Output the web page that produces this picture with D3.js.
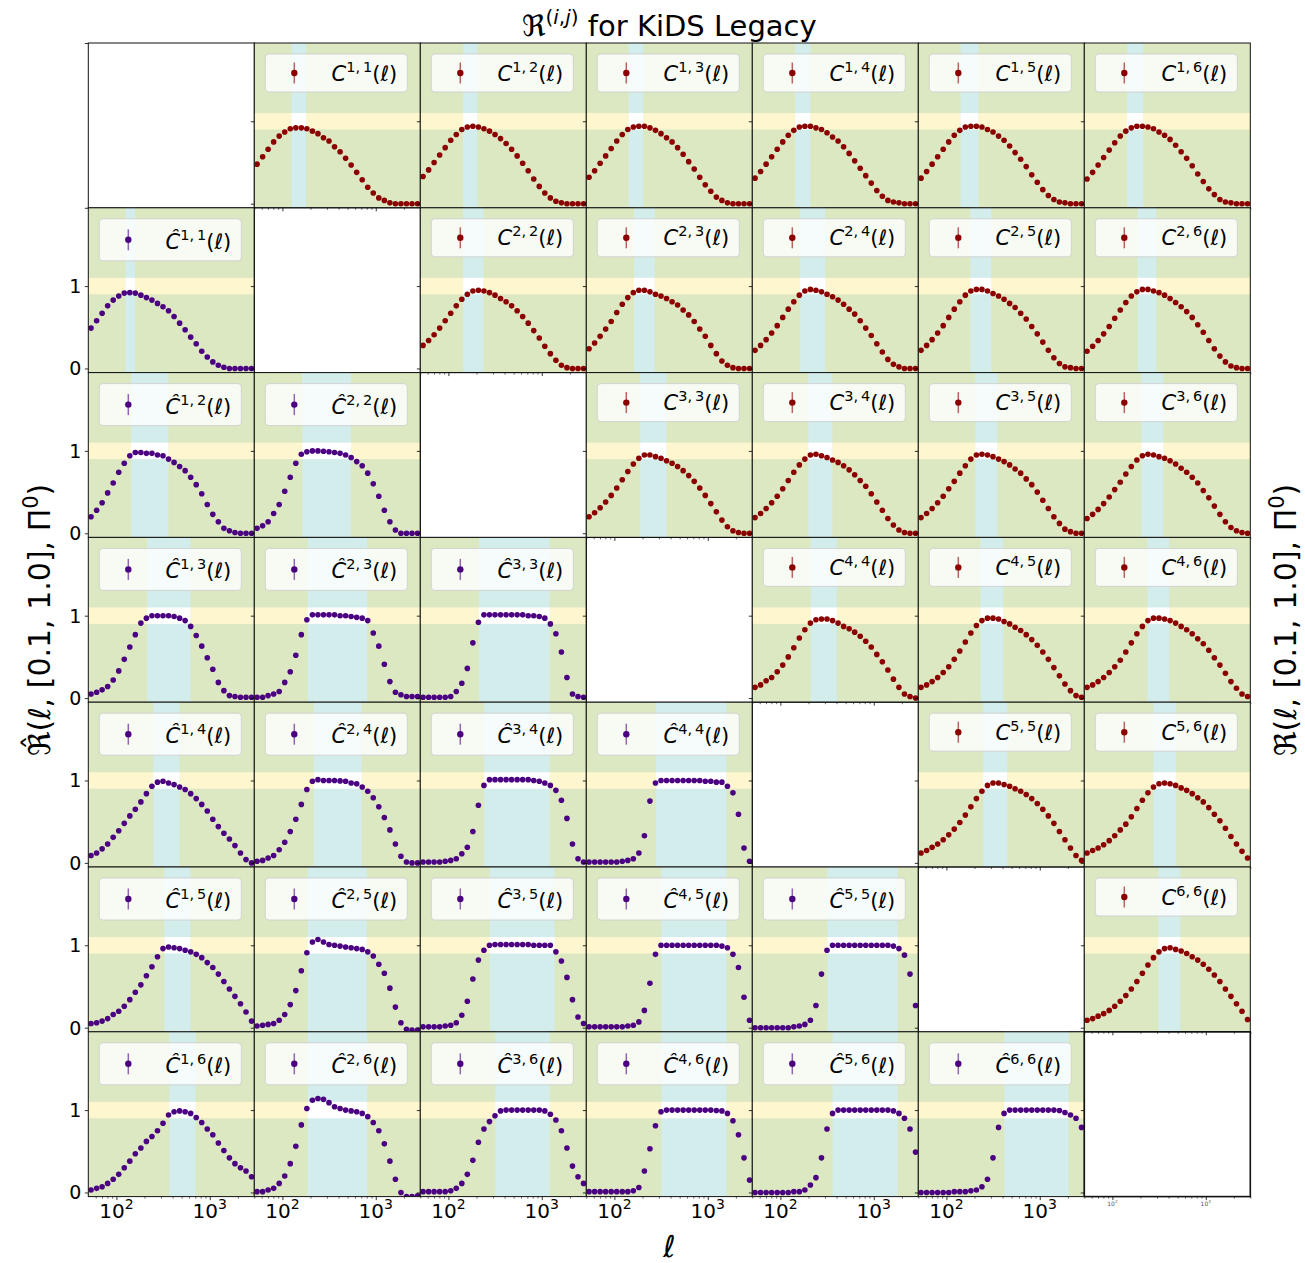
<!DOCTYPE html>
<html>
<head>
<meta charset="utf-8">
<script src="https://cdn.jsdelivr.net/npm/d3@7"></script>
<style>
body { margin: 0; background: #fff; }
text { font-family: "DejaVu Sans", sans-serif; }
</style>
</head>
<body>
<script>
// multipole bin centres
const ell = [53.5, 61.4, 70.3, 80.6, 92.4, 105.9, 121.4, 139.2, 159.5, 182.8, 209.6, 240.2, 275.4, 315.6, 361.8,
             414.7, 475.4, 544.9, 624.6, 715.9, 820.6, 940.6, 1078, 1236, 1417, 1624, 1861, 2133, 2445, 2803];

const xMajor = [100, 1000];
const xMajorLabels = ["2", "3"];
const xMinor = [60, 70, 80, 90, 200, 300, 400, 500, 600, 700, 800, 900, 2000, 3000];
const yTicks = [0, 1];
const yBand = [0.9, 1.1];

// pair order used for both triangles
const pairs = [[1,1],[1,2],[1,3],[1,4],[1,5],[1,6],[2,2],[2,3],[2,4],[2,5],[2,6],
               [3,3],[3,4],[3,5],[3,6],[4,4],[4,5],[4,6],[5,5],[5,6],[6,6]];

// upper triangle: C^{i,j}(l)
const C11 = [0.48,0.57,0.66,0.75,0.82,0.87,0.91,0.92,0.92,0.91,0.88,0.85,0.80,0.76,0.69,0.63,0.55,0.47,0.38,0.29,0.20,0.13,0.07,0.04,0.01,0,0,0,0,0];
const C12 = [0.33,0.41,0.50,0.59,0.68,0.77,0.84,0.90,0.93,0.94,0.93,0.91,0.88,0.84,0.79,0.73,0.66,0.58,0.49,0.40,0.30,0.21,0.13,0.07,0.03,0.01,0,0,0,0];
const C13 = [0.32,0.40,0.49,0.58,0.67,0.76,0.84,0.90,0.93,0.94,0.94,0.92,0.89,0.85,0.80,0.75,0.68,0.60,0.51,0.42,0.32,0.23,0.15,0.08,0.04,0.01,0,0,0,0];
const C14 = [0.31,0.39,0.48,0.57,0.66,0.75,0.83,0.89,0.93,0.94,0.94,0.92,0.90,0.86,0.81,0.76,0.69,0.61,0.52,0.43,0.34,0.25,0.16,0.09,0.04,0.02,0.01,0,0,0];
const C15 = [0.31,0.39,0.48,0.57,0.66,0.75,0.83,0.89,0.93,0.94,0.94,0.93,0.90,0.87,0.82,0.77,0.70,0.62,0.54,0.45,0.35,0.26,0.17,0.10,0.05,0.02,0.01,0,0,0];
const C16 = [0.30,0.38,0.47,0.56,0.65,0.74,0.82,0.88,0.92,0.94,0.94,0.93,0.91,0.87,0.83,0.78,0.71,0.63,0.55,0.46,0.36,0.27,0.18,0.11,0.05,0.02,0.01,0,0,0];
const C22 = [0.28,0.34,0.41,0.49,0.58,0.67,0.76,0.84,0.90,0.94,0.95,0.94,0.92,0.89,0.85,0.81,0.76,0.70,0.63,0.55,0.46,0.37,0.27,0.18,0.10,0.04,0.01,0,0,0];
const C23 = [0.24,0.31,0.39,0.48,0.57,0.68,0.78,0.86,0.92,0.95,0.95,0.93,0.90,0.88,0.85,0.81,0.77,0.71,0.65,0.57,0.48,0.39,0.28,0.18,0.09,0.04,0.01,0,0,0];
const C24 = [0.22,0.28,0.35,0.43,0.52,0.62,0.72,0.81,0.89,0.94,0.96,0.95,0.93,0.90,0.87,0.83,0.78,0.72,0.66,0.58,0.49,0.40,0.30,0.20,0.11,0.05,0.02,0,0,0];
const C25 = [0.22,0.28,0.35,0.43,0.52,0.62,0.72,0.81,0.89,0.94,0.96,0.96,0.94,0.91,0.88,0.84,0.79,0.74,0.67,0.60,0.51,0.42,0.32,0.22,0.13,0.06,0.02,0.01,0,0];
const C26 = [0.21,0.27,0.34,0.42,0.51,0.61,0.71,0.80,0.88,0.93,0.96,0.96,0.94,0.92,0.89,0.85,0.80,0.75,0.69,0.62,0.53,0.44,0.34,0.24,0.15,0.08,0.03,0.01,0,0];
const C33 = [0.20,0.25,0.31,0.38,0.46,0.55,0.65,0.75,0.84,0.91,0.95,0.95,0.93,0.91,0.88,0.85,0.81,0.76,0.70,0.63,0.55,0.46,0.36,0.26,0.16,0.08,0.03,0.01,0,0];
const C34 = [0.19,0.24,0.30,0.37,0.45,0.54,0.64,0.74,0.83,0.90,0.95,0.96,0.94,0.92,0.89,0.86,0.82,0.77,0.71,0.64,0.57,0.48,0.38,0.28,0.18,0.10,0.04,0.01,0,0];
const C35 = [0.19,0.24,0.30,0.37,0.45,0.54,0.63,0.73,0.82,0.90,0.95,0.96,0.95,0.93,0.90,0.87,0.83,0.78,0.73,0.66,0.59,0.50,0.40,0.30,0.20,0.12,0.05,0.02,0,0];
const C36 = [0.18,0.23,0.29,0.36,0.44,0.53,0.62,0.72,0.81,0.89,0.94,0.96,0.95,0.93,0.91,0.88,0.84,0.79,0.74,0.68,0.61,0.52,0.43,0.33,0.23,0.14,0.07,0.03,0.01,0];
const C44 = [0.13,0.16,0.21,0.25,0.32,0.40,0.50,0.61,0.73,0.83,0.91,0.95,0.96,0.96,0.94,0.91,0.87,0.84,0.80,0.75,0.69,0.62,0.53,0.44,0.34,0.23,0.13,0.05,0.02,0];
const C45 = [0.13,0.16,0.20,0.25,0.31,0.38,0.47,0.57,0.68,0.79,0.88,0.94,0.97,0.97,0.96,0.93,0.90,0.86,0.82,0.77,0.71,0.64,0.56,0.47,0.37,0.27,0.17,0.09,0.03,0.01];
const C46 = [0.13,0.16,0.20,0.25,0.31,0.38,0.46,0.56,0.67,0.78,0.87,0.94,0.97,0.97,0.96,0.94,0.91,0.87,0.83,0.78,0.72,0.66,0.58,0.49,0.40,0.30,0.20,0.12,0.05,0.02];
const C55 = [0.12,0.15,0.19,0.23,0.28,0.34,0.41,0.49,0.58,0.68,0.78,0.87,0.94,0.97,0.97,0.95,0.93,0.90,0.87,0.83,0.78,0.72,0.65,0.57,0.48,0.38,0.28,0.18,0.09,0.03];
const C56 = [0.12,0.15,0.18,0.22,0.27,0.33,0.40,0.47,0.56,0.66,0.76,0.85,0.92,0.96,0.97,0.96,0.94,0.91,0.88,0.84,0.79,0.74,0.67,0.59,0.51,0.42,0.32,0.23,0.14,0.06];
const C66 = [0.09,0.11,0.14,0.17,0.21,0.26,0.32,0.39,0.47,0.56,0.66,0.76,0.85,0.92,0.96,0.97,0.95,0.93,0.90,0.86,0.82,0.77,0.71,0.64,0.56,0.47,0.38,0.29,0.20,0.10];

// lower triangle: C-hat^{i,j}(l)
const Ch11 = [0.49,0.58,0.67,0.76,0.83,0.88,0.915,0.92,0.915,0.89,0.86,0.83,0.79,0.75,0.70,0.63,0.55,0.47,0.38,0.30,0.21,0.14,0.08,0.04,0.015,0,0,0,0,0];
const Ch12 = [0.20,0.28,0.37,0.49,0.61,0.74,0.85,0.94,0.98,0.98,0.97,0.97,0.95,0.94,0.90,0.86,0.81,0.76,0.68,0.59,0.48,0.35,0.23,0.14,0.06,0.03,0.01,0,0,0];
const Ch13 = [0.05,0.07,0.10,0.14,0.22,0.33,0.47,0.62,0.77,0.91,0.97,1.0,1.0,1.0,1.0,0.99,0.97,0.94,0.87,0.76,0.63,0.49,0.35,0.19,0.09,0.03,0.02,0.01,0.01,0.01];
const Ch14 = [0.09,0.12,0.17,0.23,0.31,0.39,0.48,0.57,0.65,0.74,0.84,0.93,0.98,0.99,0.97,0.95,0.92,0.89,0.84,0.78,0.71,0.63,0.53,0.44,0.36,0.29,0.21,0.12,0.04,0];
const Ch15 = [0.05,0.06,0.08,0.11,0.16,0.20,0.26,0.34,0.43,0.52,0.63,0.74,0.86,0.96,0.98,0.97,0.96,0.94,0.92,0.89,0.85,0.79,0.73,0.65,0.56,0.47,0.38,0.29,0.19,0.08];
const Ch16 = [0.03,0.05,0.07,0.11,0.16,0.22,0.30,0.38,0.47,0.54,0.62,0.68,0.75,0.84,0.94,0.98,0.99,0.98,0.96,0.91,0.85,0.77,0.70,0.60,0.51,0.42,0.35,0.30,0.26,0.19];
const Ch22 = [0.06,0.09,0.14,0.24,0.35,0.51,0.68,0.85,0.96,0.99,1.0,1.0,0.995,0.99,0.98,0.97,0.95,0.92,0.87,0.82,0.73,0.60,0.45,0.28,0.14,0.04,0,0,0,0];
const Ch23 = [0.01,0.01,0.03,0.05,0.08,0.19,0.32,0.52,0.77,0.95,1.01,1.01,1.01,1.01,1.01,1.0,1.0,0.99,0.98,0.97,0.94,0.79,0.63,0.41,0.20,0.07,0.04,0.02,0.02,0.02];
const Ch24 = [0.02,0.03,0.06,0.09,0.16,0.25,0.38,0.53,0.71,0.89,0.99,1.01,1.0,1.0,1.0,0.995,0.99,0.97,0.96,0.92,0.87,0.79,0.68,0.55,0.40,0.23,0.08,0.01,0,0];
const Ch25 = [0.02,0.03,0.04,0.05,0.09,0.16,0.28,0.45,0.69,0.91,1.04,1.07,1.04,1.01,1.0,0.99,0.98,0.97,0.96,0.95,0.92,0.87,0.77,0.66,0.48,0.25,0.06,-0.02,-0.03,-0.03];
const Ch26 = [0.01,0.01,0.03,0.05,0.11,0.20,0.35,0.56,0.82,1.02,1.12,1.14,1.13,1.09,1.04,1.02,1.0,0.99,0.98,0.96,0.92,0.85,0.75,0.59,0.38,0.16,0.0,-0.05,-0.05,-0.04];
const Ch33 = [0.01,0.01,0.01,0.01,0.01,0.02,0.08,0.18,0.36,0.67,0.92,1.01,1.01,1.01,1.01,1.01,1.01,1.01,1.01,1.0,1.0,0.99,0.97,0.90,0.78,0.56,0.25,0.05,0.02,0.01];
const Ch34 = [0.01,0.01,0.01,0.01,0.02,0.03,0.05,0.11,0.19,0.38,0.70,0.94,1.01,1.01,1.01,1.01,1.01,1.01,1.01,1.01,1.0,0.99,0.97,0.94,0.88,0.76,0.54,0.23,0.05,0.01];
const Ch35 = [0.01,0.01,0.01,0.01,0.02,0.03,0.06,0.15,0.32,0.59,0.82,0.94,1.0,1.01,1.01,1.01,1.01,1.01,1.01,1.01,1.0,1.0,1.0,1.0,0.92,0.81,0.61,0.34,0.13,0.05];
const Ch36 = [0.01,0.01,0.01,0.01,0.01,0.02,0.05,0.11,0.22,0.39,0.61,0.77,0.86,0.93,0.99,1.0,1.0,1.0,1.0,1.0,1.0,1.0,0.99,0.95,0.88,0.75,0.54,0.32,0.19,0.11];
const Ch44 = [0.01,0.01,0.01,0.01,0.01,0.01,0.02,0.03,0.05,0.12,0.33,0.75,0.97,1.0,1.0,1.0,1.0,1.0,1.0,1.0,1.0,0.99,0.99,0.98,0.98,0.93,0.85,0.59,0.18,0.02];
const Ch45 = [0.01,0.01,0.01,0.01,0.01,0.01,0.01,0.02,0.03,0.07,0.21,0.54,0.89,1.0,1.0,1.0,1.0,1.0,1.0,1.0,1.0,1.0,1.0,1.0,0.99,0.97,0.89,0.73,0.37,0.09];
const Ch46 = [0.01,0.01,0.01,0.01,0.01,0.01,0.01,0.01,0.02,0.06,0.26,0.53,0.81,0.98,1.0,1.0,1.0,1.0,1.0,1.0,1.0,1.0,1.0,0.995,0.99,0.96,0.87,0.70,0.42,0.15];
const Ch55 = [0,0,0,0,0,0,0,0.01,0.02,0.04,0.09,0.27,0.65,0.94,1.0,1.0,1.0,1.0,1.0,1.0,1.0,1.0,1.0,1.0,1.0,0.99,0.96,0.88,0.65,0.27];
const Ch56 = [0,0,0,0,0,0,0,0.01,0.01,0.03,0.09,0.18,0.42,0.77,0.96,1.0,1.0,1.0,1.0,1.0,1.0,1.0,1.0,1.0,1.0,0.99,0.96,0.90,0.77,0.49];
const Ch66 = [0,0,0,0,0,0,0.01,0.01,0.01,0.02,0.03,0.07,0.16,0.42,0.79,0.96,1.0,1.0,1.0,1.0,1.0,1.0,1.0,1.0,1.0,0.995,0.97,0.94,0.90,0.79];

// l ranges of the shaded vertical band, same order as pairs
const upperBandLo = [125,144,142,144,142,144,144,162,163,180,186,189,199,204,204,211,231,237,248,274,310];
const upperBandHi = [179,204,204,209,220,214,237,270,303,303,296,360,360,351,351,403,407,407,449,483,534];
const lowerBandLo = [125,144,214,248,326,368,163,186,216,186,186,213,241,277,318,279,318,318,318,362,417];
const lowerBandHi = [159,360,619,475,619,705,543,812,705,800,812,1213,1213,1373,1213,1580,1580,1580,1800,1800,2036];

const upperSeries = [C11,C12,C13,C14,C15,C16,C22,C23,C24,C25,C26,C33,C34,C35,C36,C44,C45,C46,C55,C56,C66];
const lowerSeries = [Ch11,Ch12,Ch13,Ch14,Ch15,Ch16,Ch22,Ch23,Ch24,Ch25,Ch26,Ch33,Ch34,Ch35,Ch36,Ch44,Ch45,Ch46,Ch55,Ch56,Ch66];

// layout
var svgW = 1305, svgH = 1263;
var gridLeft = 88.3, gridTop = 43, pw = 166, ph = 164.8;
var green = "#dce8c2", yellow = "#fdf6cf", blue = "#d3ecec";
var red = "#8b0000", purple = "#4b0082";

var svg = d3.select("body").append("svg").attr("width", svgW).attr("height", svgH);

var x = d3.scaleLog().domain([50, 3000]).range([0, pw]);
var y = d3.scaleLinear().domain([-0.05, 1.95]).range([ph, 0]);
// empty corner axes keeps the default 0..1 range
var yEmpty = d3.scaleLinear().domain([0, 1]).range([ph, 0]);

// build the cell table from the pair lists
var cells = {};
pairs.forEach(function(p, k){
  cells[(p[0]-1) + "_" + p[1]] = {i: p[0], j: p[1], hat: false, vals: upperSeries[k], lo: upperBandLo[k], hi: upperBandHi[k]};
  cells[p[1] + "_" + (p[0]-1)] = {i: p[0], j: p[1], hat: true, vals: lowerSeries[k], lo: lowerBandLo[k], hi: lowerBandHi[k]};
});

function sup10(t, e, size){
  t.append("tspan").text("10");
  t.append("tspan").attr("dy", -size*0.42).attr("font-size", size*0.7).text(e);
}

for (var r = 0; r < 7; r++){
  for (var c = 0; c < 7; c++){
    var cell = cells[r + "_" + c];
    var g = svg.append("g").attr("transform", "translate(" + (gridLeft + c*pw) + "," + (gridTop + r*ph) + ")");
    var clipId = "clip" + r + c;
    g.append("clipPath").attr("id", clipId).append("rect").attr("width", pw).attr("height", ph);

    if (cell){
      var col = cell.hat ? purple : red;
      //achtergrond en banden
      g.append("rect").attr("width", pw).attr("height", ph).attr("fill", green);
      g.append("rect").attr("x", 0).attr("y", y(yBand[1])).attr("width", pw)
        .attr("height", y(yBand[0]) - y(yBand[1])).attr("fill", yellow);
      g.append("rect").attr("x", x(cell.lo)).attr("y", 0).attr("width", x(cell.hi) - x(cell.lo))
        .attr("height", ph).attr("fill", blue);
      g.append("rect").attr("x", x(cell.lo)).attr("y", y(yBand[1])).attr("width", x(cell.hi) - x(cell.lo))
        .attr("height", y(yBand[0]) - y(yBand[1])).attr("fill", "#ffffff");

      //punten
      g.append("g").attr("clip-path", "url(#" + clipId + ")")
        .selectAll("circle").data(cell.vals).enter().append("circle")
        .attr("cx", function(d, k){ return x(ell[k]); })
        .attr("cy", function(d){ return y(d); })
        .attr("r", 2.8)
        .attr("fill", col);

      //legenda
      var bh = cell.hat ? 42 : 38;
      var lg = g.append("g").attr("transform", "translate(11,11)");
      lg.append("rect").attr("width", 142).attr("height", bh).attr("rx", 3.5)
        .attr("fill", "#ffffff").attr("fill-opacity", 0.8)
        .attr("stroke", "#cccccc").attr("stroke-opacity", 0.8).attr("stroke-width", 1);
      lg.append("line").attr("x1", 29).attr("x2", 29).attr("y1", bh/2 - 10.5).attr("y2", bh/2 + 10.5)
        .attr("stroke", col).attr("stroke-opacity", 0.6).attr("stroke-width", 1.5);
      lg.append("circle").attr("cx", 29).attr("cy", bh/2).attr("r", 3.2).attr("fill", col);
      var lt = lg.append("text").attr("x", 132).attr("y", cell.hat ? 30 : 26.5)
        .attr("text-anchor", "end").attr("font-size", 21).attr("fill", "#000");
      lt.append("tspan").attr("font-style", "italic").text(cell.hat ? "\u0108" : "C");
      lt.append("tspan").attr("dy", -9).attr("font-size", 14.5).text(cell.i + ",\u2009" + cell.j);
      lt.append("tspan").attr("dy", 9).text("(");
      lt.append("tspan").attr("font-style", "italic").text("\u2113");
      lt.append("tspan").text(")");
    }

    //x ticks
    g.append("g").attr("transform", "translate(0," + ph + ")")
      .call(d3.axisBottom(x).tickValues(xMinor).tickSize(2).tickFormat(""))
      .call(function(a){ a.select(".domain").remove(); a.selectAll("line").attr("stroke-width", 0.6); });
    g.append("g").attr("transform", "translate(0," + ph + ")")
      .call(d3.axisBottom(x).tickValues(xMajor).tickSize(3.5).tickFormat(""))
      .call(function(a){ a.select(".domain").remove(); a.selectAll("line").attr("stroke-width", 0.8); });
    //y ticks
    g.append("g")
      .call(d3.axisLeft(r == 0 && c == 0 ? yEmpty : y).tickValues(yTicks).tickSize(3.5).tickFormat(""))
      .call(function(a){ a.select(".domain").remove(); a.selectAll("line").attr("stroke-width", 0.8); });

    //tick labels
    if (c == 0 && r > 0){
      yTicks.forEach(function(v){
        g.append("text").attr("x", -7).attr("y", y(v)).attr("dy", "0.36em")
          .attr("text-anchor", "end").attr("font-size", 19).text(v);
      });
    }
    if (r == 6){
      var small = (c == 6);
      xMajor.forEach(function(v, k){
        var t = g.append("text").attr("x", x(v)).attr("y", ph + (small ? 9 : 21))
          .attr("text-anchor", "middle").attr("font-size", small ? 6 : 20)
          .attr("fill", small ? "#555" : "#000");
        sup10(t, xMajorLabels[k], small ? 6 : 20);
      });
    }

    //rand
    g.append("rect").attr("width", pw).attr("height", ph)
      .attr("fill", "none").attr("stroke", "#111")
      .attr("stroke-width", (r == 6 && c == 6) ? 1.6 : 1);
  }
}

//titel
var midX = gridLeft + 3.5*pw;
var title = svg.append("text").attr("x", midX).attr("y", 36).attr("text-anchor", "middle").attr("font-size", 29);
title.append("tspan").text("\u211C");
title.append("tspan").attr("dy", -12).attr("font-size", 20).text("(");
title.append("tspan").attr("font-size", 20).attr("font-style", "italic").text("i");
title.append("tspan").attr("font-size", 20).text(",");
title.append("tspan").attr("font-size", 20).attr("font-style", "italic").text("j");
title.append("tspan").attr("font-size", 20).text(")");
title.append("tspan").attr("dy", 12).text(" for KiDS Legacy");

//as labels
svg.append("text").attr("x", midX).attr("y", 1257).attr("text-anchor", "middle")
  .attr("font-size", 30).attr("font-style", "italic").text("\u2113");

function ylabel(xpos, hat){
  var midY = gridTop + 3.5*ph;
  var t = svg.append("text").attr("transform", "translate(" + xpos + "," + midY + ") rotate(-90)")
    .attr("text-anchor", "middle").attr("font-size", 30);
  t.append("tspan").text(hat ? "\u211C\u0302(" : "\u211C(");
  t.append("tspan").attr("font-style", "italic").text("\u2113");
  t.append("tspan").text(", [0.1, 1.0], \u03A0");
  t.append("tspan").attr("dy", -12).attr("font-size", 21).text("0");
  t.append("tspan").attr("dy", 12).text(")");
}
ylabel(50, true);
ylabel(1296, false);
</script>
</body>
</html>
